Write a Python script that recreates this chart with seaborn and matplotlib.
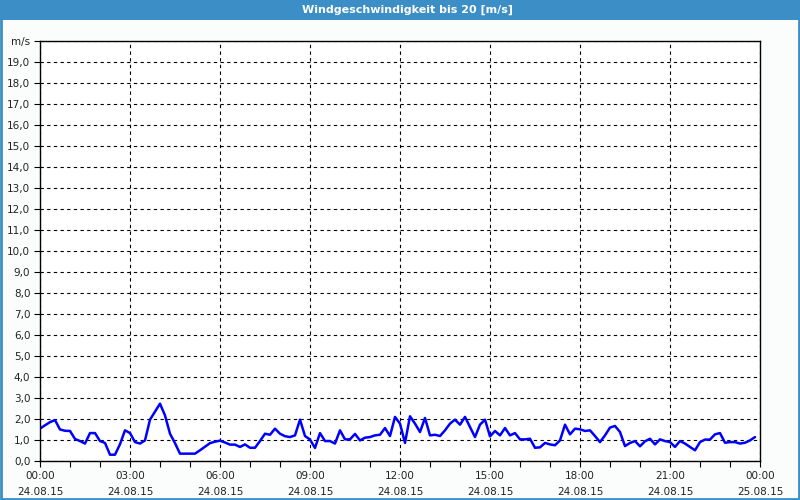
import numpy as np
import pandas as pd
import matplotlib
matplotlib.use("Agg")
import matplotlib.pyplot as plt
import seaborn as sns
from matplotlib.patches import Rectangle
from matplotlib.ticker import MultipleLocator

# wind speed [m/s], 10-minute values from 00:00 to 23:50 on 24.08.15
speed = [
    1.54, 1.70, 1.85, 1.95, 1.50, 1.44,   # 00h
    1.43, 1.05, 0.95, 0.83, 1.33, 1.33,   # 01h
    0.95, 0.86, 0.30, 0.30, 0.80, 1.46,   # 02h
    1.33, 0.90, 0.83, 0.98, 1.97, 2.35,   # 03h
    2.73, 2.17, 1.30, 0.85, 0.35, 0.35,   # 04h
    0.35, 0.35, 0.51, 0.68, 0.85, 0.92,   # 05h
    0.97, 0.88, 0.78, 0.78, 0.67, 0.79,   # 06h
    0.63, 0.63, 0.95, 1.30, 1.25, 1.54,   # 07h
    1.30, 1.18, 1.14, 1.22, 1.97, 1.19,   # 08h
    1.02, 0.62, 1.33, 0.95, 0.95, 0.83,   # 09h
    1.46, 1.03, 1.03, 1.29, 0.98, 1.11,   # 10h
    1.14, 1.22, 1.25, 1.57, 1.19, 2.10,   # 11h
    1.78, 0.86, 2.13, 1.78, 1.38, 2.05,   # 12h
    1.22, 1.25, 1.19, 1.46, 1.78, 1.97,   # 13h
    1.73, 2.10, 1.62, 1.14, 1.73, 1.97,   # 14h
    1.17, 1.43, 1.22, 1.57, 1.22, 1.33,   # 15h
    1.03, 1.03, 1.06, 0.63, 0.65, 0.86,   # 16h
    0.79, 0.75, 0.98, 1.73, 1.27, 1.54,   # 17h
    1.51, 1.43, 1.46, 1.19, 0.90, 1.22,   # 18h
    1.59, 1.67, 1.38, 0.71, 0.86, 0.95,   # 19h
    0.70, 0.94, 1.06, 0.79, 1.03, 0.95,   # 20h
    0.90, 0.67, 0.95, 0.83, 0.67, 0.51,   # 21h
    0.90, 1.02, 1.02, 1.27, 1.33, 0.87,   # 22h
    0.90, 0.90, 0.83, 0.87, 0.98, 1.14,   # 23h
]
hours = np.arange(len(speed)) / 6.0

x_ticks = [0, 3, 6, 9, 12, 15, 18, 21, 24]
x_labels = ["00:00\n24.08.15", "03:00\n24.08.15", "06:00\n24.08.15",
            "09:00\n24.08.15", "12:00\n24.08.15", "15:00\n24.08.15",
            "18:00\n24.08.15", "21:00\n24.08.15", "00:00\n25.08.15"]
y_ticks = list(range(0, 21))
y_labels = [f"{v},0" for v in range(0, 20)] + ["m/s"]
title = "Windgeschwindigkeit bis 20 [m/s]"

df = pd.DataFrame({"h": hours, "v": speed})

sns.set_style("white")
plt.rcParams["font.family"] = ["DejaVu Sans"]

fig = plt.figure(figsize=(8, 5), dpi=100, facecolor="#fbfdfc")
ax = fig.add_axes([0.05, 0.078, 0.90, 0.84])
ax.set_facecolor("white")

sns.lineplot(data=df, x="h", y="v", ax=ax, color="#0000ff", linewidth=1.8)

ax.set_xlim(0, 24)
ax.set_ylim(0, 20)
ax.set_xticks(x_ticks)
ax.set_xticklabels(x_labels, fontsize=7.5, color="#222222", linespacing=1.75)
ax.xaxis.set_minor_locator(MultipleLocator(1))
ax.set_yticks(y_ticks)
ax.set_yticklabels(y_labels, fontsize=7.5, color="#222222")
ax.set_xlabel("")
ax.set_ylabel("")

ax.tick_params(axis="both", which="both", direction="out", length=4, width=0.8,
               color="black", left=True, bottom=True, pad=3)
ax.tick_params(axis="x", which="major", pad=3)
ax.grid(True, which="major", axis="both", color="black", linestyle=(0, (3, 3)),
        linewidth=0.8)
ax.set_axisbelow(True)
for s in ax.spines.values():
    s.set_visible(True)
    s.set_color("black")
    s.set_linewidth(1.0)

# title bar
fig.patches.append(Rectangle((0, 1 - 20 / 500), 1, 20 / 500, transform=fig.transFigure,
                             facecolor="#3b8fc6", edgecolor="none", zorder=0))
fig.patches.append(Rectangle((0.001, 0.002), 0.998, 0.997, transform=fig.transFigure,
                             facecolor="none", edgecolor="#3b8fc6", linewidth=2, zorder=5))
fig.text(0.51, 1 - 10 / 500, title, ha="center", va="center", color="white",
         fontsize=8, fontweight="bold")

fig.savefig("out.png", dpi=100, facecolor=fig.get_facecolor())
